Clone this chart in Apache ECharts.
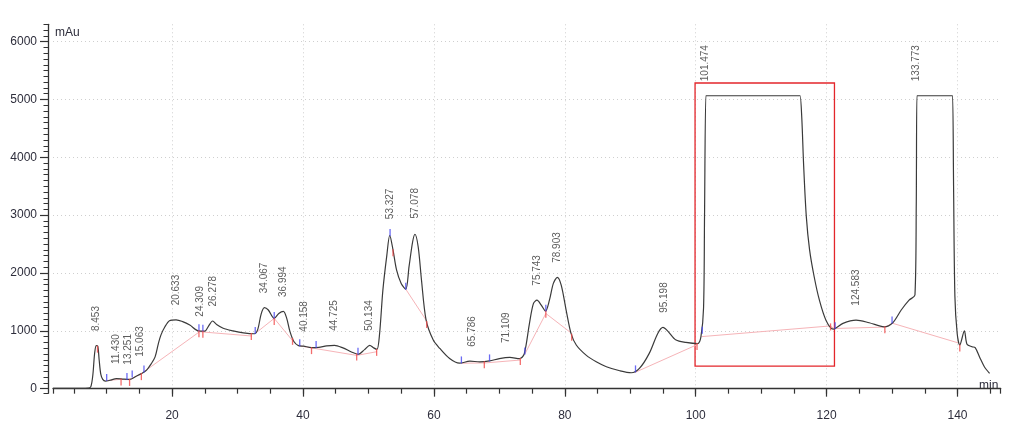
<!DOCTYPE html>
<html>
<head>
<meta charset="utf-8">
<title>Chromatogram</title>
<script src="https://cdn.jsdelivr.net/npm/echarts@6/dist/echarts.min.js"></script>
<style>
  html, body { margin: 0; padding: 0; background: #fff; }
  #main { width: 1024px; height: 434px; }
</style>
</head>
<body>
<div id="main"></div>
<script>
// detector trace (min, mAu)
var traceTime = [1.8, 4, 6, 7.2, 7.6, 7.9, 8.15, 8.4, 8.65, 8.85, 9.1, 9.4, 9.8, 10.5, 11.5, 12.6, 13.5, 14.5, 15.3, 16.1,
  16.8, 17.4, 17.9, 18.3, 18.9, 19.6, 20.6, 21.6, 22.7, 24.0, 25.0, 25.5, 26.2, 26.8, 27.8, 29.3, 30.9, 32.6, 33.1, 33.6,
  34.1, 34.7, 35.6, 36.3, 37.0, 37.5, 38.0, 38.6, 39.3, 40.1, 41.3, 42.4, 43.6, 44.8, 46.1, 47.4, 48.4, 49.4, 50.2, 50.8,
  51.3, 51.7, 52.2, 52.8, 53.25, 53.75, 54.3, 55.0, 55.7, 56.2, 56.75, 57.1, 57.6, 58.1, 58.8, 59.9, 60.9, 62.4, 63.9, 65.5,
  67.0, 68.5, 70.0, 71.6, 73.1, 73.8, 74.6, 75.2, 75.75, 76.4, 77.05, 77.65, 78.25, 78.85, 79.45, 80.2, 80.95, 81.75, 83.25, 84.8,
  86.35, 88.4, 90.15, 91.4, 92.9, 94.2, 95.0, 95.7, 97.0, 98.5, 100.3, 100.8, 101.2, 101.35, 101.55, 101.7, 115.8, 115.95, 116.2, 116.5,
  116.9, 117.4, 118.1, 118.9, 119.9, 121.0, 122.5, 124.5, 126.5, 128.8, 130.1, 131.4, 132.6, 133.5, 133.7, 133.8, 133.95, 139.1, 139.25, 139.4,
  139.6, 139.95, 140.35, 141.05, 141.45, 142.2, 142.7, 143.4, 144.1, 144.9];
var traceSignal = [5, 5, 5, 10, 40, 250, 600, 745, 730, 500, 250, 160, 130, 145, 175, 165, 160, 215, 260, 320,
  430, 550, 780, 930, 1070, 1175, 1190, 1160, 1100, 1000, 995, 1070, 1170, 1110, 1045, 1000, 965, 950, 1030, 1290,
  1400, 1360, 1215, 1300, 1335, 1220, 990, 815, 745, 735, 710, 715, 740, 750, 705, 635, 595, 675, 750, 705,
  680, 950, 1700, 2300, 2650, 2400, 2050, 1820, 1720, 2110, 2540, 2670, 2450, 1880, 1190, 840, 695, 520, 440, 475,
  465, 480, 520, 540, 520, 600, 1130, 1470, 1530, 1445, 1340, 1530, 1820, 1925, 1790, 1360, 955, 755, 580, 465,
  380, 310, 275, 350, 610, 955, 1060, 1000, 840, 800, 780, 900, 1400, 3000, 5065, 5065, 5065, 5065, 4700, 3840,
  2975, 2400, 1935, 1530, 1185, 1030, 1130, 1185, 1140, 1070, 1140, 1360, 1530, 1620, 3200, 5065, 5065, 5065, 5065, 3500,
  1600, 955, 755, 1000, 770, 725, 710, 540, 380, 265];

// integration baselines (pink)
var baselineSegments = [
  [[9.9, 140], [12.0, 160], [13.5, 155], [15.3, 260], [24.2, 985], [32.2, 910]],
  [[32.7, 955], [35.6, 1215], [38.4, 830]],
  [[39.5, 740], [41.3, 705], [48.2, 575], [51.3, 640]],
  [[55.7, 1720], [58.9, 1170]],
  [[64.2, 440], [67.8, 445], [73.2, 495]],
  [[73.9, 600], [77.1, 1300], [81.0, 960]],
  [[90.7, 280], [100.2, 760]],
  [[100.9, 900], [120.6, 1085], [121.1, 1040], [128.9, 1065], [130.1, 1130], [140.3, 785]]
];
var startMarks = [[10.0, 140], [13.1, 160], [13.9, 200], [15.7, 290], [24.1, 1000], [24.7, 995], [32.7, 955], [35.6, 1215],
  [39.5, 740], [42.0, 712], [48.4, 595], [53.3, 2650], [55.7, 1720], [64.2, 445], [68.5, 480], [73.9, 600], [77.1, 1340],
  [90.8, 290], [101.0, 960], [121.3, 1035], [130.0, 1135]];
var endMarks = [[8.6, 735], [12.2, 168], [13.5, 160], [15.3, 260], [24.1, 1000], [24.7, 995], [32.1, 955], [35.6, 1215],
  [38.4, 870], [41.3, 710], [48.2, 600], [51.25, 680], [53.75, 2400], [58.9, 1160], [67.7, 465], [73.2, 520], [77.1, 1340],
  [81.05, 940], [100.2, 780], [120.6, 1120], [128.9, 1070], [140.35, 755]];

// peak apex labels
var peakTimes = [8.453, 11.430, 13.251, 15.063, 20.633, 24.309, 26.278, 34.067, 36.994, 40.158, 44.725,
  50.134, 53.327, 57.078, 65.786, 71.109, 75.743, 78.903, 95.198, 101.474, 124.583, 133.773];
var peakHeights = [745, 175, 165, 300, 1190, 995, 1170, 1400, 1335, 735, 750,
  750, 2680, 2690, 475, 540, 1530, 1925, 1060, 5065, 1185, 5065];

var boxFrom = [99.9, 390];
var boxTo = [121.2, 5285];

var trace = traceTime.map(function (t, i) { return [t, traceSignal[i]]; });
var peaks = peakTimes.map(function (t, i) { return [t, peakHeights[i]]; });

var axisFont = 'Liberation Sans';
var axisInk = '#2e2e3c';
var grid = '#cfcfcf';

var series = [{
  type: 'line',
  data: trace,
  smooth: 0.3,
  symbol: 'none',
  lineStyle: { color: '#3a3a3a', width: 1.2 },
  z: 3,
  markArea: {
    silent: true,
    label: { show: false },
    itemStyle: { color: 'rgba(0,0,0,0)', borderColor: '#e3262b', borderWidth: 1.3 },
    data: [[{ coord: boxFrom }, { coord: boxTo }]]
  }
}];

baselineSegments.forEach(function (seg) {
  series.push({
    type: 'line',
    data: seg,
    symbol: 'none',
    lineStyle: { color: '#f6b4b8', width: 1 },
    z: 2
  });
});

series.push({
  type: 'scatter',
  data: startMarks,
  symbol: 'rect',
  symbolSize: [1.3, 7],
  symbolOffset: [0, -3],
  itemStyle: { color: '#4646f0' },
  z: 4
});
series.push({
  type: 'scatter',
  data: endMarks,
  symbol: 'rect',
  symbolSize: [1.3, 7],
  symbolOffset: [0, 3],
  itemStyle: { color: '#f04848' },
  z: 4
});
series.push({
  type: 'scatter',
  data: peaks,
  symbolSize: 1,
  itemStyle: { color: 'rgba(0,0,0,0)' },
  label: {
    show: true,
    position: 'top',
    distance: 14,
    rotate: 90,
    align: 'left',
    verticalAlign: 'middle',
    fontFamily: 'Liberation Sans',
    fontSize: 10,
    color: '#333',
    formatter: function (p) { return p.value[0].toFixed(3); }
  },
  z: 5
});

var chart = echarts.init(document.getElementById('main'));
chart.setOption({
  animation: false,
  backgroundColor: '#fff',
  grid: { left: 53, right: 23.3, top: 24.3, bottom: 40.7 },
  xAxis: [{
    type: 'value',
    min: 1.8,
    max: 146.6,
    minInterval: 20,
    maxInterval: 20,
    position: 'bottom',
    offset: 6,
    axisLine: { show: true, lineStyle: { color: '#333', width: 1.3 } },
    axisTick: { show: true, length: 8, lineStyle: { color: '#333', width: 1.2 } },
    axisLabel: { showMinLabel: false, showMaxLabel: false, margin: 10, fontFamily: axisFont, fontSize: 12, color: axisInk },
    splitLine: { show: true, showMinLine: false, showMaxLine: false, lineStyle: { color: grid, type: [1, 3] } }
  }, {
    type: 'value',
    min: 1.8,
    max: 146.6,
    minInterval: 5,
    maxInterval: 5,
    position: 'bottom',
    offset: 6,
    axisLine: { show: false },
    axisTick: { show: true, length: 5, lineStyle: { color: '#333', width: 1.2 } },
    axisLabel: { show: false },
    splitLine: { show: false }
  }],
  yAxis: [{
    type: 'value',
    min: -80,
    max: 6300,
    minInterval: 1000,
    maxInterval: 1000,
    position: 'left',
    offset: 5,
    axisLine: { show: true, lineStyle: { color: '#333', width: 1.3 } },
    axisTick: { show: true, length: 8, lineStyle: { color: '#333', width: 1.2 } },
    axisLabel: {
      showMinLabel: false, showMaxLabel: false, margin: 11,
      fontFamily: axisFont, fontSize: 12, color: axisInk,
      formatter: function (v) { return String(v); }
    },
    splitLine: { show: true, showMinLine: false, showMaxLine: false, lineStyle: { color: grid, type: [1, 3] } }
  }, {
    type: 'value',
    min: -80,
    max: 6300,
    minInterval: 100,
    maxInterval: 100,
    position: 'left',
    offset: 5,
    axisLine: { show: false },
    axisTick: { show: true, length: 4.5, lineStyle: { color: '#333', width: 1 } },
    axisLabel: { show: false },
    splitLine: { show: false }
  }],
  graphic: [
    { type: 'text', left: 55, top: 27, style: { text: 'mAu', font: '12px "Liberation Sans"', fill: axisInk } },
    { type: 'text', left: 979, top: 380, style: { text: 'min', font: '12px "Liberation Sans"', fill: axisInk } }
  ],
  series: series
});
</script>
</body>
</html>
